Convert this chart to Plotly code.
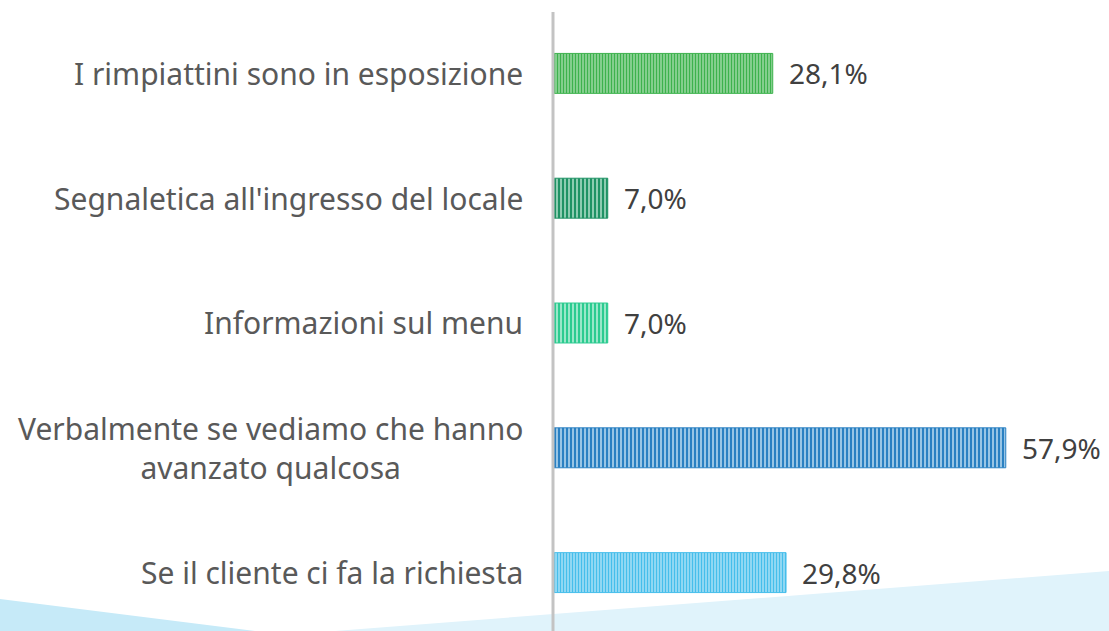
import plotly.graph_objects as go

categories = [
    "I rimpiattini sono in esposizione",
    "Segnaletica all'ingresso del locale",
    "Informazioni sul menu",
    "Verbalmente se vediamo che hanno<br>avanzato qualcosa",
    "Se il cliente ci fa la richiesta",
]
values = [28.1, 7.0, 7.0, 57.9, 29.8]
value_labels = ["28,1%", "7,0%", "7,0%", "57,9%", "29,8%"]
dark_colors = ["#3db24d", "#1f9264", "#2ccb90", "#2a80c2", "#46beeb"]
light_colors = ["#b2e2b8", "#a8dbc5", "#b4eed8", "#b4d6ee", "#c0e9f9"]
stripe_sizes = [3, 4, 4, 4, 3]

W, H = 1109, 631
PLOT_L = 553
PLOT_T = 11
FONT = "Noto Sans"

fig = go.Figure()
for i, cat in enumerate(categories):
    fig.add_trace(go.Bar(
        x=[values[i]], y=[cat], orientation="h",
        width=0.32,
        marker=dict(
            color=light_colors[i],
            line=dict(color=dark_colors[i], width=1),
            pattern=dict(shape="|", fgcolor=dark_colors[i], bgcolor=light_colors[i],
                         size=stripe_sizes[i], solidity=0.6, fillmode="replace"),
        ),
        showlegend=False, hoverinfo="skip",
    ))

annotations = []
for i, cat in enumerate(categories):
    annotations.append(dict(
        x=(525) / W, xref="paper", y=cat, yref="y",
        text=cat, showarrow=False, xanchor="right", yanchor="middle",
        align="center", font=dict(family=FONT, size=30, color="#595959"),
    ))
    annotations.append(dict(
        x=values[i], xref="x", y=cat, yref="y",
        text=value_labels[i], showarrow=False, xanchor="left", yanchor="middle",
        xshift=14, font=dict(family=FONT, size=28, color="#404040"),
    ))

shapes = [
    # light decoration at the bottom
    dict(type="path", xref="paper", yref="paper", layer="below",
         path="M {:.4f},0 L 1,{:.4f} L 1,0 Z".format(335 / W, (H - 571) / H),
         fillcolor="#e0f3fb", line=dict(width=0)),
    dict(type="path", xref="paper", yref="paper", layer="below",
         path="M 0,{:.4f} L {:.4f},0 L 0,0 Z".format((H - 599) / H, 255 / W),
         fillcolor="#c6eaf8", line=dict(width=0)),
    # vertical axis line
    dict(type="line", xref="paper", yref="paper",
         x0=PLOT_L / W, x1=PLOT_L / W, y0=0, y1=(H - 12) / H,
         line=dict(color="#c3c3c3", width=3)),
]

plot_h = H - PLOT_T
px_per_unit = 124.8
y_bottom = -0.5 + plot_h / px_per_unit
px_per_pct = 7.82
x_max = (W - PLOT_L) / px_per_pct

fig.update_layout(
    width=W, height=H,
    margin=dict(l=0, r=0, t=0, b=0),
    paper_bgcolor="white", plot_bgcolor="rgba(0,0,0,0)",
    barmode="overlay",
    xaxis=dict(domain=[PLOT_L / W, 1], range=[0, x_max], visible=False, fixedrange=True),
    yaxis=dict(domain=[0, plot_h / H], range=[y_bottom, -0.5], type="category",
               categoryorder="array", categoryarray=categories,
               showticklabels=False, showgrid=False, zeroline=False, showline=False),
    annotations=annotations,
    shapes=shapes,
)

fig.write_html("out.html", config={"displayModeBar": False},
               post_script="document.body.style.margin='0px';")
